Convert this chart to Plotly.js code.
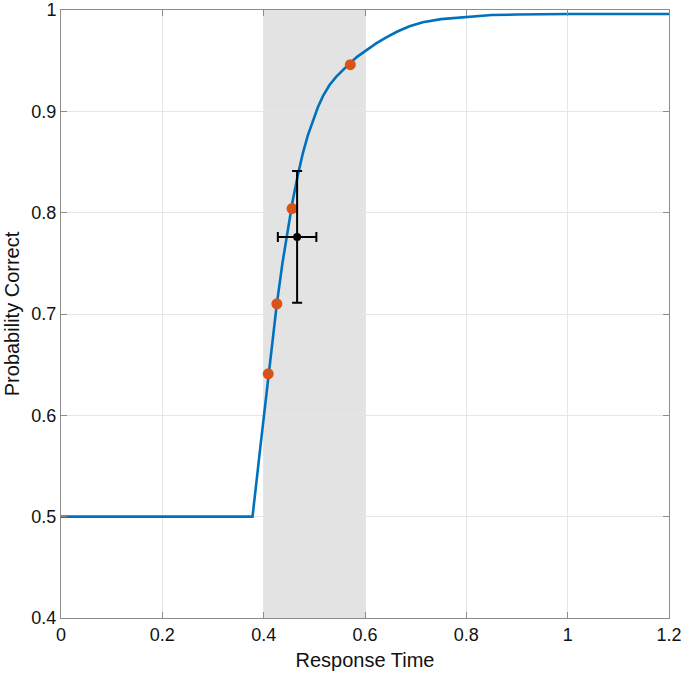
<!DOCTYPE html>
<html><head><meta charset="utf-8">
<script src="https://cdn.plot.ly/plotly-3.0.1.min.js"></script>
<style>html,body{margin:0;padding:0;background:#fff;}#chart{width:685px;height:677px;}</style>
</head><body><div id="chart"></div>
<script>
// Fitted psychometric curve
const curveX = [0, 0.378, 0.394, 0.41, 0.426, 0.437, 0.4475, 0.457, 0.467, 0.477, 0.487, 0.497, 0.507, 0.517, 0.530, 0.543, 0.556, 0.569, 0.585, 0.602, 0.622, 0.642, 0.665, 0.688, 0.714, 0.75, 0.80, 0.85, 0.90, 1.0, 1.2];
const curveY = [0.5, 0.5, 0.571, 0.641, 0.710, 0.750, 0.784, 0.811, 0.836, 0.858, 0.876, 0.891, 0.904, 0.915, 0.926, 0.934, 0.941, 0.947, 0.954, 0.960, 0.967, 0.973, 0.979, 0.984, 0.988, 0.991, 0.993, 0.995, 0.9955, 0.996, 0.996];
// Observed points
const ptsX = [0.409, 0.426, 0.456, 0.571];
const ptsY = [0.641, 0.710, 0.804, 0.946];
// Mean with error bars
const meanX = [0.466];
const meanY = [0.776];
const meanXErr = [0.038];
const meanYErr = [0.065];
// Shaded band
const bandX = [0.4, 0.6];
const xTicks = [0, 0.2, 0.4, 0.6, 0.8, 1, 1.2];
const yTicks = [0.4, 0.5, 0.6, 0.7, 0.8, 0.9, 1];

const FONT = 'Liberation Sans, Arial, Helvetica, sans-serif';
const traces = [
  {x: curveX, y: curveY, mode: 'lines', line: {color: '#0072BD', width: 2.6}, hoverinfo: 'skip'},
  {x: ptsX, y: ptsY, mode: 'markers', marker: {color: '#D95319', size: 11}},
  {x: meanX, y: meanY, mode: 'markers', marker: {color: '#000', size: 8},
   error_x: {type: 'data', array: meanXErr, color: '#000', thickness: 2, width: 5},
   error_y: {type: 'data', array: meanYErr, color: '#000', thickness: 2, width: 5}}
];

const axisCommon = {
  showline: true, mirror: 'ticks', linecolor: '#8c8c8c', linewidth: 1,
  ticks: 'inside', ticklen: 6, tickcolor: '#8c8c8c', tickwidth: 1,
  showgrid: true, gridcolor: '#e6e6e6', gridwidth: 1, zeroline: false,
  tickfont: {family: FONT, size: 18, color: '#111'}
};

const layout = {
  width: 685, height: 677,
  margin: {l: 61, r: 16, t: 10, b: 59},
  paper_bgcolor: '#fff', plot_bgcolor: '#fff',
  showlegend: false,
  xaxis: Object.assign({}, axisCommon, {range: [0, 1.2], tickvals: xTicks, ticktext: xTicks.map(String), ticklabelstandoff: 0,
    title: {text: 'Response Time', font: {family: FONT, size: 20, color: '#111'}, standoff: 9}}),
  yaxis: Object.assign({}, axisCommon, {range: [0.4, 1], tickvals: yTicks, ticktext: yTicks.map(String),
    title: {text: 'Probability Correct', font: {family: FONT, size: 20, color: '#111'}, standoff: 6}}),
  shapes: [{type: 'rect', xref: 'x', yref: 'paper', x0: bandX[0], x1: bandX[1], y0: 0, y1: 1,
    fillcolor: '#e3e3e3', line: {width: 0}, layer: 'below'}]
};

Plotly.newPlot('chart', traces, layout, {staticPlot: true});
</script></body></html>
